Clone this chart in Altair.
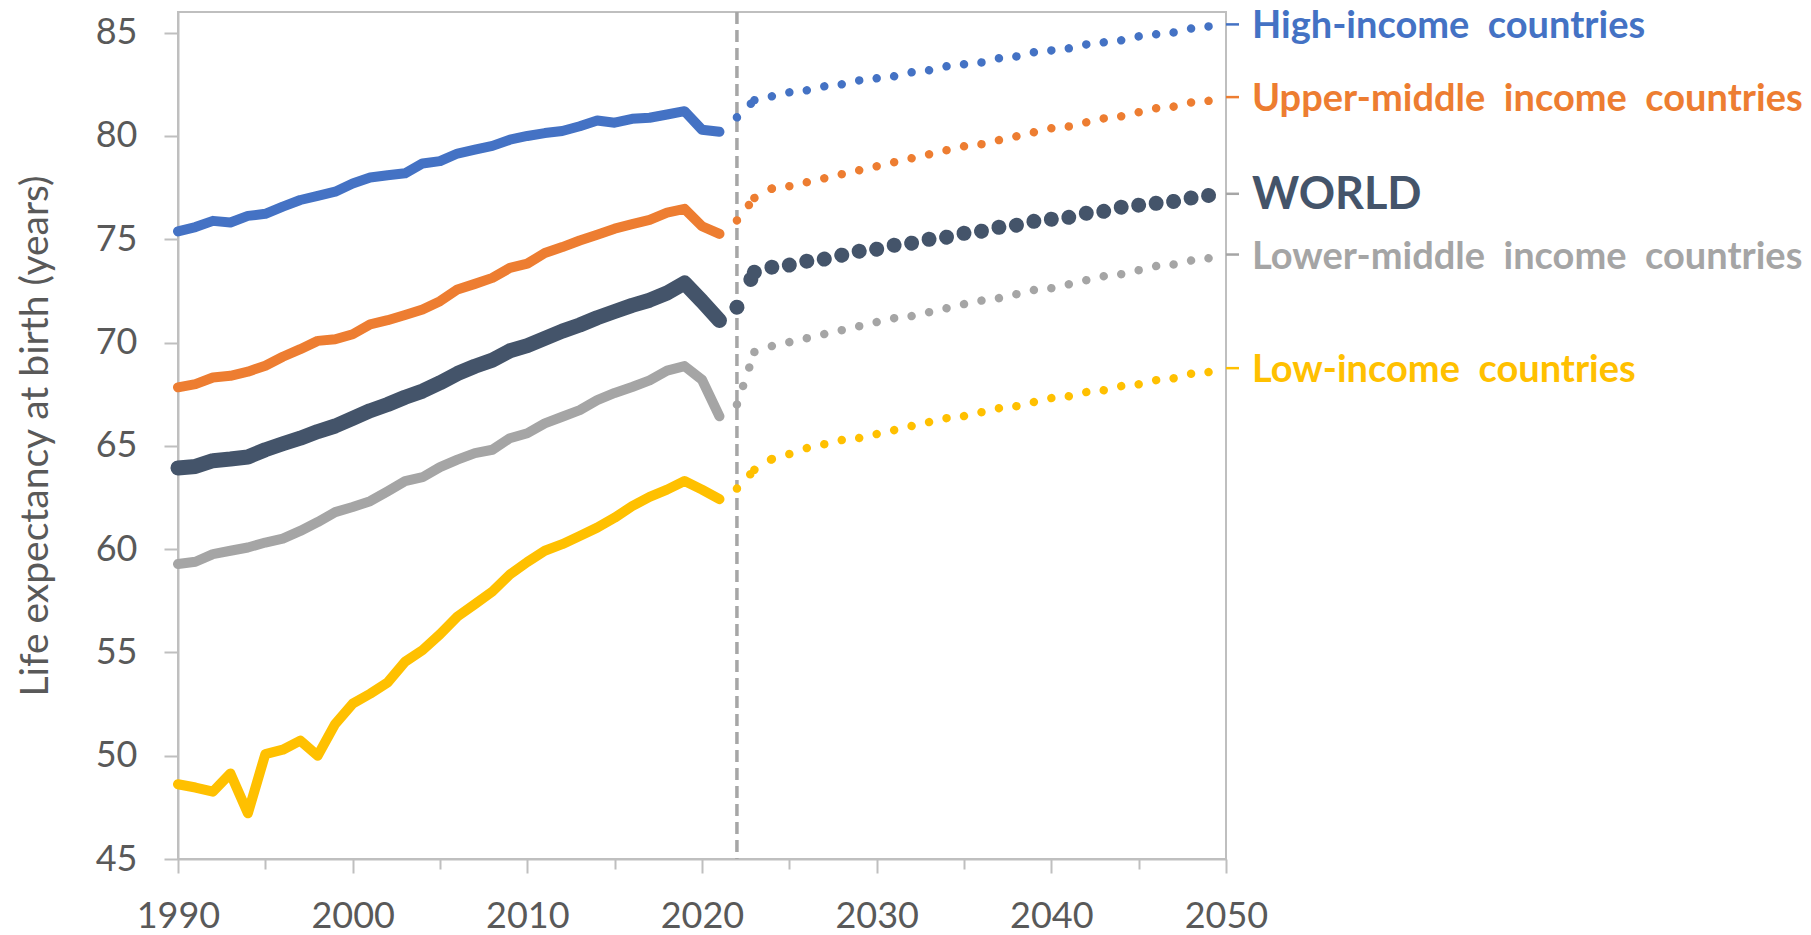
import altair as alt
import pandas as pd

# ---------------- data ----------------
series = ["High-income countries", "Upper-middle income countries", "WORLD",
          "Lower-middle income countries", "Low-income countries"]
# text as printed on the chart (the original shows wide gaps between words)
label_text = ["High-income\u00a0 countries", "Upper-middle\u00a0 income\u00a0 countries", "WORLD",
              "Lower-middle\u00a0 income\u00a0 countries", "Low-income\u00a0 countries"]
colors = ["#4472C4", "#ED7D31", "#44546A", "#A5A5A5", "#FFC000"]

hist_years = list(range(1990, 2022))
proj_years = list(range(2022, 2051))
divider_year = [2022]

high_hist = [75.38, 75.59, 75.89, 75.81, 76.13, 76.23, 76.58, 76.9, 77.1, 77.3, 77.7, 77.99, 78.1, 78.19,
             78.67, 78.78, 79.15, 79.34, 79.52, 79.82, 80.0, 80.14, 80.24, 80.47, 80.75, 80.64, 80.83,
             80.88, 81.04, 81.2, 80.3, 80.2]
upper_hist = [67.83, 67.99, 68.31, 68.39, 68.59, 68.88, 69.31, 69.68, 70.08, 70.16, 70.4, 70.88, 71.08,
              71.33, 71.6, 72.0, 72.57, 72.84, 73.13, 73.61, 73.82, 74.33, 74.62, 74.94, 75.22, 75.51,
              75.73, 75.94, 76.29, 76.47, 75.63, 75.26]
world_hist = [63.93, 64.0, 64.28, 64.36, 64.46, 64.81, 65.1, 65.37, 65.69, 65.96, 66.33, 66.7, 67.0,
              67.35, 67.65, 68.05, 68.5, 68.85, 69.15, 69.6, 69.85, 70.2, 70.55, 70.85, 71.2, 71.5,
              71.8, 72.05, 72.4, 72.88, 72.0, 71.07]
lower_hist = [59.28, 59.39, 59.76, 59.92, 60.08, 60.32, 60.51, 60.88, 61.31, 61.79, 62.04, 62.32, 62.8,
              63.29, 63.48, 63.97, 64.33, 64.65, 64.81, 65.37, 65.61, 66.09, 66.41, 66.73, 67.21, 67.56,
              67.85, 68.17, 68.64, 68.86, 68.2, 66.43]
low_hist = [48.62, 48.46, 48.26, 49.14, 47.21, 50.08, 50.29, 50.73, 50.0, 51.54, 52.52, 53.0, 53.54,
            54.55, 55.11, 55.88, 56.74, 57.34, 57.95, 58.77, 59.38, 59.92, 60.24, 60.64, 61.04, 61.52,
            62.08, 62.53, 62.88, 63.3, 62.88, 62.42]

high_proj = [80.9, 81.73, 81.92, 82.11, 82.21, 82.4, 82.5, 82.69, 82.79, 82.89, 83.08, 83.18, 83.37,
             83.47, 83.56, 83.76, 83.85, 84.05, 84.14, 84.24, 84.43, 84.53, 84.63, 84.82, 84.92, 85.01,
             85.2, 85.3, 85.4]
upper_proj = [75.91, 77.0, 77.45, 77.57, 77.76, 77.95, 78.15, 78.34, 78.53, 78.73, 78.92, 79.11, 79.31,
              79.5, 79.6, 79.8, 79.98, 80.18, 80.37, 80.46, 80.66, 80.85, 80.95, 81.15, 81.34, 81.42,
              81.62, 81.7, 81.88]
world_proj = [71.71, 73.4, 73.65, 73.75, 73.94, 74.04, 74.23, 74.42, 74.52, 74.71, 74.81, 75.0, 75.1,
              75.29, 75.39, 75.58, 75.68, 75.87, 75.97, 76.06, 76.26, 76.35, 76.55, 76.65, 76.74, 76.83,
              77.0, 77.12, 77.2]
lower_proj = [67.0, 69.54, 69.83, 70.02, 70.21, 70.41, 70.6, 70.79, 70.99, 71.18, 71.28, 71.47, 71.66,
              71.86, 72.03, 72.15, 72.34, 72.54, 72.63, 72.82, 73.02, 73.21, 73.31, 73.5, 73.7, 73.78,
              73.97, 74.08, 74.26]
low_proj = [62.93, 63.84, 64.36, 64.6, 64.89, 65.08, 65.28, 65.38, 65.57, 65.76, 65.96, 66.15, 66.34,
            66.44, 66.63, 66.82, 66.92, 67.12, 67.31, 67.4, 67.6, 67.69, 67.89, 67.98, 68.18, 68.27,
            68.49, 68.57, 68.76]

y_ticks = [45, 50, 55, 60, 65, 70, 75, 80, 85]
x_ticks = list(range(1990, 2051, 5))

hist_values = [high_hist, upper_hist, world_hist, lower_hist, low_hist]
proj_values = [high_proj, upper_proj, world_proj, lower_proj, low_proj]

# ---------------- tables ----------------
hist_rows = []
for s, vals in zip(series, hist_values):
    for yr, v in zip(hist_years, vals):
        hist_rows.append({"series": s, "year": yr, "value": v})
hist = pd.DataFrame(hist_rows)

seg_rows = []
for s, vals in zip(series, proj_values):
    for i in range(len(proj_years) - 1):
        for j in (i, i + 1):
            seg_rows.append({"series": s, "seg": i, "year": proj_years[j], "value": vals[j]})
seg = pd.DataFrame(seg_rows)

labels = pd.DataFrame({"series": series, "text": label_text,
                       "value": [p[-1] for p in proj_values]})
divider = pd.DataFrame({"year": divider_year})

# ---------------- chart ----------------
W, H = 1048, 847
FONT = "Lato"
color_scale = alt.Scale(domain=series, range=colors)

x_enc = alt.X(
    "year:Q",
    scale=alt.Scale(domain=[1990, 2050], nice=False, zero=False),
    axis=alt.Axis(
        values=x_ticks, format="d",
        labelExpr="datum.value % 10 === 0 ? datum.label : ''",
        tickSize={"condition": {"test": "datum.value % 10 === 0", "value": 14}, "value": 10},
        labelPadding=26, labelFlush=False, labelOverlap=False, labelBaseline="top",
        title=None,
    ),
)
y_enc = alt.Y(
    "value:Q",
    scale=alt.Scale(domain=[45, 86], nice=False, zero=False),
    axis=alt.Axis(
        values=y_ticks, tickSize=14, labelPadding=27, labelFlush=False, labelOverlap=False,
        title="Life expectancy at birth (years)",
        titleX=-143, titleY=H / 2, titleAngle=270, titleAlign="center", titleBaseline="middle",
    ),
)

div_rule = alt.Chart(divider).mark_rule(
    color="#A6A6A6", strokeWidth=3.5, strokeDash=[12, 6]
).encode(x=alt.X("year:Q"), y=alt.value(0), y2=alt.value(H))

thin_hist = alt.Chart(hist).transform_filter(alt.datum.series != "WORLD").mark_line(
    strokeWidth=10, strokeCap="round", strokeJoin="round"
).encode(x=x_enc, y=y_enc, color=alt.Color("series:N", scale=color_scale, legend=None),
         detail="series:N")

world_hist_l = alt.Chart(hist).transform_filter(alt.datum.series == "WORLD").mark_line(
    strokeWidth=15, strokeCap="round", strokeJoin="round"
).encode(x="year:Q", y="value:Q", color=alt.Color("series:N", scale=color_scale, legend=None))

thin_proj = alt.Chart(seg).transform_filter(alt.datum.series != "WORLD").mark_line(
    strokeWidth=8.5, strokeCap="round", strokeDash=[0.01, 19.5]
).encode(x="year:Q", y="value:Q", color=alt.Color("series:N", scale=color_scale, legend=None),
         detail=alt.Detail(["series:N", "seg:N"]))

world_proj_l = alt.Chart(seg).transform_filter(alt.datum.series == "WORLD").mark_line(
    strokeWidth=15, strokeCap="round", strokeDash=[0.01, 31]
).encode(x="year:Q", y="value:Q", color=alt.Color("series:N", scale=color_scale, legend=None),
         detail="seg:N")

right_ticks = alt.Chart(labels).mark_rule(strokeWidth=2.5).encode(
    x=alt.value(W), x2=alt.value(W + 13), y="value:Q",
    color=alt.condition(alt.datum.series == "WORLD", alt.value("#A6A6A6"),
                        alt.Color("series:N", scale=color_scale, legend=None)),
)

text_small = alt.Chart(labels).transform_filter(alt.datum.series != "WORLD").mark_text(
    align="left", baseline="middle", font=FONT, fontWeight="bold", fontSize=38, dy=3
).encode(x=alt.value(W + 26), y="value:Q", text="text:N",
         color=alt.Color("series:N", scale=color_scale, legend=None))

text_world = alt.Chart(labels).transform_filter(alt.datum.series == "WORLD").mark_text(
    align="left", baseline="middle", font=FONT, fontWeight="bold", fontSize=45, dy=1
).encode(x=alt.value(W + 26), y="value:Q", text="text:N",
         color=alt.Color("series:N", scale=color_scale, legend=None))

chart = alt.layer(
    div_rule, thin_hist, world_hist_l, thin_proj, world_proj_l, right_ticks, text_small, text_world
).properties(
    width=W, height=H,
    padding={"left": 178, "top": 12, "right": 585, "bottom": 76},
    autosize=alt.AutoSizeParams(type="none"),
).configure_view(
    stroke="#BFBFBF", strokeWidth=2
).configure_axis(
    domainColor="#BFBFBF", domainWidth=2, tickColor="#BFBFBF", tickWidth=2, grid=False,
    labelFont=FONT, labelFontSize=36, labelColor="#595959",
    titleFont=FONT, titleFontSize=39, titleColor="#595959", titleFontWeight="normal",
)

chart.save("out.html", embed_options={"renderer": "svg", "actions": False})
